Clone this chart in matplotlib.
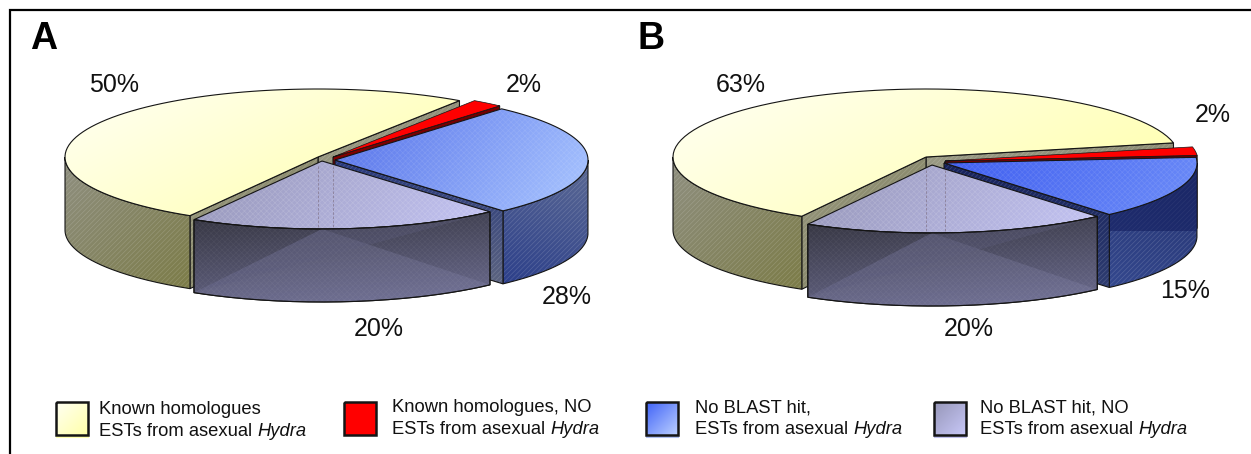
import numpy as np
import matplotlib
matplotlib.use('Agg')
import matplotlib.pyplot as plt
from matplotlib.path import Path
from matplotlib.patches import PathPatch, Polygon
from matplotlib.colors import to_rgb

plt.rcParams['font.family'] = ['Liberation Sans', 'DejaVu Sans']
plt.rcParams['hatch.linewidth'] = 0.5

# slice shares as measured on the picture, labels as printed
shares_a = [51, 2, 27, 20]
shares_b = [63.5, 2, 15, 19.5]
labels_a = ['50%', '2%', '28%', '20%']
labels_b = ['63%', '2%', '15%', '20%']
legend_first = ['Known homologues', 'Known homologues, NO', 'No BLAST hit,', 'No BLAST hit, NO']
legend_second = 'ESTs from asexual '

# layout, in pixels of the 1251x454 picture
RX, RY, DEPTH = 253, 68, 73
centres_a = [(318, 157), (333, 157), (335, 160), (322, 161)]
centres_b = [(926, 157), (945, 161), (944, 163), (932, 165)]
label_pos_a = [(114, 85), (524, 85), (567, 297), (379, 329)]
label_pos_b = [(741, 85), (1213, 115), (1185, 291), (969, 329)]

fig = plt.figure(figsize=(12.51, 4.54), dpi=100)
ax = fig.add_axes([0, 0, 1, 1])
ax.set_xlim(0, 1251)
ax.set_ylim(454, 0)
ax.axis('off')


def rim(c, a0, a1, drop=0, n=80):
    t = np.radians(np.linspace(a0, a1, n))
    return np.column_stack([c[0] + RX*np.cos(t), c[1] - RY*np.sin(t) + drop])


def gradient(verts, c0, c1, direction=(1, 1)):
    # clipped image, so the colour can run across the shape
    path = Path(np.vstack([verts, verts[0]]), closed=False)
    x0, y0 = verts.min(axis=0)
    x1, y1 = verts.max(axis=0)
    xx, yy = np.meshgrid(np.linspace(x0, x1, 120), np.linspace(y0, y1, 120))
    t = xx*direction[0] + yy*direction[1]
    t = (t - t.min())/(t.max() - t.min())
    img = np.zeros(t.shape + (3,))
    for i in range(3):
        img[..., i] = to_rgb(c0)[i]*(1 - t) + to_rgb(c1)[i]*t
    im = ax.imshow(img, extent=(x0, x1, y1, y0), aspect='auto', zorder=2, interpolation='bilinear')
    im.set_clip_path(PathPatch(path, transform=ax.transData))
    ax.set_xlim(0, 1251)
    ax.set_ylim(454, 0)
    return path


def shape(verts, c0, c1, direction=(1, 1), hatch=None, hatch_col=(1, 1, 1, 0.16), lw=0.8):
    path = gradient(verts, c0, c1, direction)
    if hatch:
        ax.add_patch(PathPatch(path, fc='none', ec=hatch_col, lw=0, hatch=hatch, zorder=2))
    ax.add_patch(PathPatch(path, fc='none', ec='#151515', lw=lw, zorder=2))


def wall(c, a0, a1):
    top = rim(c, a0, a1)
    return np.vstack([top, rim(c, a1, a0, DEPTH)])


def cut(c, ang):
    p = rim(c, ang, ang, n=1)[0]
    return np.array([c, p, p + (0, DEPTH), (c[0], c[1] + DEPTH)])


def sector(c, a0, a1):
    return np.vstack([[c], rim(c, a0, a1)])


def pie(shares, centres, start, blue_top, blue_wall, blue_cut, wall_break=False):
    ends = start - np.cumsum(shares[1:])*3.6
    ends = np.concatenate([[start], ends])
    # yellow runs counter clockwise from start, the others follow clockwise
    y0, y1 = start, start + shares[0]*3.6
    r0, r1 = ends[1], ends[0]
    b0, b1 = ends[2], ends[1]
    l0, l1 = ends[3], ends[2]
    cy, cr, cb, cl = centres

    # yellow slice
    shape(cut(cy, y0), '#9a9a84', '#8a8a70', hatch='///////')
    shape(cut(cy, y1), '#98987f', '#80805e', hatch='///////')
    shape(wall(cy, 180, y1), '#8f8f80', '#7c7c48', hatch='///////')
    shape(sector(cy, y0, y1), '#fffff4', '#ffffa8', direction=(0.5, 1))

    # red slice
    shape(cut(cr, r0), '#8a0000', '#600000')
    shape(sector(cr, r0, r1), '#ff0000', '#ff0000', lw=0.5)

    # blue slice
    front_blue = wall(cb, b0, min(b1, 0))
    shape(front_blue, blue_wall[0], blue_wall[1], direction=(-0.4, 1), hatch='///////')
    if wall_break:
        # upper part of the front is darker, with a hard edge
        x0, x1 = front_blue[:, 0].min(), front_blue[:, 0].max()
        y_edge = cb[1] + RY
        dark = Polygon([(x0, cb[1] - 10), (x1, cb[1] - 10), (x1, y_edge), (x0, y_edge)],
                       fc='#141f60', ec='none', alpha=0.6, zorder=2)
        ax.add_patch(dark)
        dark.set_clip_path(PathPatch(Path(np.vstack([front_blue, front_blue[0]])), transform=ax.transData))
    shape(cut(cb, b0), blue_cut[0], blue_cut[1], direction=(0, 1), hatch='///////')
    shape(sector(cb, b0, b1), blue_top[0], blue_top[1], direction=(1, 0.7),
          hatch='xxxxxx', hatch_col=(1, 1, 1, 0.10))

    # lilac slice and its dark glassy front
    shape(sector(cl, l0, l1), '#9696b8', '#c4c4f4', direction=(1, 0.7),
          hatch='xxxxxx', hatch_col=(1, 1, 1, 0.14))
    for x in (cy[0], cr[0]):
        ax.plot([x, x], [cl[1] + 5, cl[1] + RY - 2], color='#8a7f98', lw=0.6, ls=(0, (3, 2)), zorder=2)
    front = wall(cl, l0, l1)
    shape(front, '#34343f', '#6c6c90', direction=(0.1, 1))
    bottom = rim(cl, l0, l1, DEPTH)
    mid = rim(cl, -90, -90, n=1)[0]
    clip = PathPatch(Path(np.vstack([front, front[0]])), transform=ax.transData)
    tri = Polygon(np.vstack([[mid], bottom]), fc='#8c8cb4', ec='none', alpha=0.24, zorder=2)
    ax.add_patch(tri)
    tri.set_clip_path(clip)
    right = Polygon([mid, rim(cl, l1, l1, n=1)[0], bottom[0]], fc='#5c5c7c', ec='none', alpha=0.35, zorder=2)
    ax.add_patch(right)
    right.set_clip_path(clip)
    ax.add_patch(PathPatch(Path(np.vstack([front, front[0]])), fc='none', ec=(1, 1, 1, 0.05),
                           lw=0, hatch='xxxxxx', zorder=2))
    ax.add_patch(PathPatch(Path(np.vstack([front, front[0]])), fc='none', ec='#151515', lw=0.8, zorder=2))


pie(shares_a, centres_a, 56, ('#5470ea', '#aac6ff'), ('#5c6a94', '#2c3f8a'), ('#27387c', '#5c6480'))
pie(shares_b, centres_b, 12, ('#3f5ef0', '#6c8cf8'), ('#24326e', '#34488e'), ('#16225c', '#2e3c70'),
    wall_break=True)

for txt, pos in zip(labels_a + labels_b, label_pos_a + label_pos_b):
    ax.text(pos[0], pos[1], txt, fontsize=18, ha='center', va='center', color='#111111', zorder=4)
ax.text(44, 39, 'A', fontsize=27, fontweight='bold', ha='center', va='center', zorder=4)
ax.text(651, 39, 'B', fontsize=27, fontweight='bold', ha='center', va='center', zorder=4)

# frame, only top and left
ax.plot([10, 10, 1251], [454, 10, 10], color='black', lw=1.6, zorder=4, solid_joinstyle='miter')

# legend
swatch_x = [56, 344, 646, 934]
text_x = [99, 392, 695, 980]
line_y = [(410, 431), (408, 429), (408, 430), (408, 430)]
swatch_cols = [('#fffff4', '#ffffa8'), ('#ff0000', '#ff0000'), ('#3f62f8', '#bcd0ff'), ('#9696b8', '#c8c8f8')]
shadow_cols = ['#ffffb0', '#ffffff', '#b0c0f0', '#c0c0ec']
renderer = fig.canvas.get_renderer()
for sx, tx, ly, sc, sh, first in zip(swatch_x, text_x, line_y, swatch_cols, shadow_cols, legend_first):
    ax.plot([sx + 1, sx + 32], [437, 437], color=sh, lw=1.5, zorder=2)
    box = np.array([[sx, 402], [sx + 32, 402], [sx + 32, 435], [sx, 435]], dtype=float)
    shape(box, sc[0], sc[1], lw=1.8)
    ax.text(tx, ly[0], first, fontsize=13.2, va='center', color='#111111')
    t = ax.text(tx, ly[1], legend_second, fontsize=13.2, va='center', color='#111111')
    end = ax.transData.inverted().transform(t.get_window_extent(renderer))[1, 0]
    ax.text(end, ly[1], 'Hydra', fontsize=13.2, style='italic', va='center', color='#111111')

fig.savefig('out.png', dpi=100)
